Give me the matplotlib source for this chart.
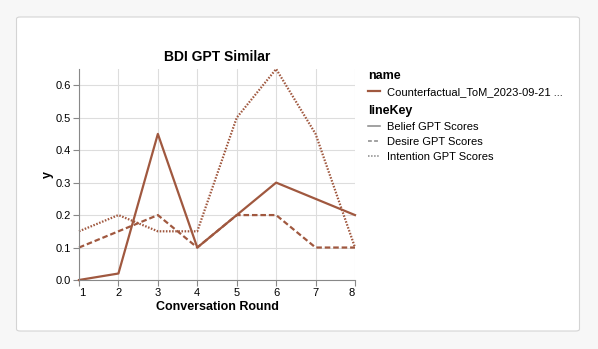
import matplotlib.pyplot as plt
from matplotlib.patches import FancyBboxPatch
from matplotlib.lines import Line2D

plt.rcParams['font.family'] = ['Liberation Sans', 'DejaVu Sans']

rounds = [1, 2, 3, 4, 5, 6, 7, 8]
belief = [0.0, 0.02, 0.45, 0.1, 0.2, 0.3, 0.25, 0.2]
desire = [0.1, 0.15, 0.2, 0.1, 0.2, 0.2, 0.1, 0.1]
intention = [0.15, 0.2, 0.15, 0.15, 0.5, 0.65, 0.45, 0.1]
series_names = ['Belief GPT Scores', 'Desire GPT Scores', 'Intention GPT Scores']
run_name = 'Counterfactual_ToM_2023-09-21 ...'

col = '#a0583f'
styles = ['-', (0, (2.5, 1.3)), (0, (0.7, 0.7))]
leg_styles = ['-', (0, (2.5, 1.5)), (0, (1, 1))]

fig = plt.figure(figsize=(5.98, 3.49), dpi=100)
fig.patch.set_facecolor('#f7f7f7')
card = FancyBboxPatch((16.5 / 598, 1 - 331 / 349), 563 / 598, 314 / 349,
                      boxstyle='round,pad=0,rounding_size=0.006',
                      transform=fig.transFigure, facecolor='white',
                      edgecolor='#d4d4d4', linewidth=0.8, zorder=-10)
fig.add_artist(card)

ax = fig.add_axes([79 / 598, 1 - 280 / 349, 276 / 598, 211 / 349], zorder=2)
ax.set_facecolor('white')
for ys, ls in zip([belief, desire, intention], styles):
    ax.plot(rounds, ys, color=col, linestyle=ls, linewidth=1.6, clip_on=False)

ax.set_xlim(1, 8)
ax.set_ylim(0, 0.65)
ax.set_xticks(rounds)
ax.set_yticks([0, 0.1, 0.2, 0.3, 0.4, 0.5, 0.6])
ax.set_yticklabels(['0.0', '0.1', '0.2', '0.3', '0.4', '0.5', '0.6'])
ax.grid(color='#dddddd', linewidth=0.8)
ax.set_axisbelow(True)
for s in ['top', 'right']:
    ax.spines[s].set_visible(False)
for s in ['left', 'bottom']:
    ax.spines[s].set_color('#888888')
    ax.spines[s].set_linewidth(0.8)
ax.tick_params(labelsize=8, colors='#888888', length=4, width=0.8, labelcolor='black', pad=2)
xl = ax.get_xticklabels()
xl[0].set_horizontalalignment('left')
xl[-1].set_horizontalalignment('right')
ax.set_xlabel('Conversation Round', fontsize=9, fontweight='bold', labelpad=2)
ax.set_ylabel('y', fontsize=9, fontweight='bold', labelpad=1)
ax.set_title('BDI GPT Similar', fontsize=10, fontweight='bold', pad=6)

h1 = [Line2D([], [], color=col, linewidth=1.6)]
leg1 = fig.legend(h1, [run_name], title='name', loc='upper left',
                  bbox_to_anchor=(368 / 598, 1 - 70 / 349), frameon=False,
                  fontsize=8, handlelength=1.1, handletextpad=0.6,
                  borderaxespad=0, borderpad=0, labelspacing=0.45)
leg1.get_title().set_fontweight('bold')
leg1.get_title().set_fontsize(9)
leg1._legend_box.align = 'left'

h2 = [Line2D([], [], color='#888888', linestyle=ls, linewidth=1.1) for ls in leg_styles]
leg2 = fig.legend(h2, series_names, title='lineKey', loc='upper left',
                  bbox_to_anchor=(368 / 598, 1 - 105 / 349), frameon=False,
                  fontsize=8, handlelength=1.1, handletextpad=0.6,
                  borderaxespad=0, borderpad=0, labelspacing=0.45)
leg2.get_title().set_fontweight('bold')
leg2.get_title().set_fontsize(9)
leg2._legend_box.align = 'left'

fig.savefig('out.png', dpi=100, facecolor=fig.get_facecolor())
